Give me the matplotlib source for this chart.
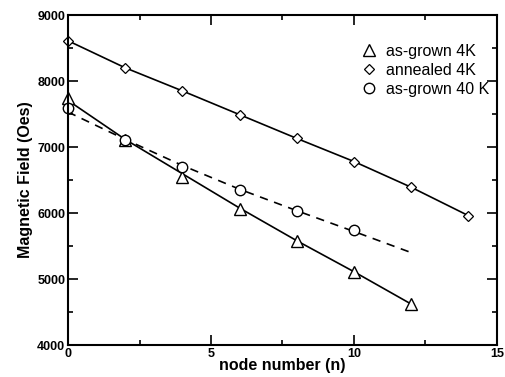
import matplotlib
matplotlib.use("Agg")
import matplotlib.pyplot as plt
from matplotlib.ticker import MultipleLocator

plt.rcParams['font.family'] = ['Liberation Sans', 'DejaVu Sans']

# as-grown 4K (triangles)
n_grown4 = [0, 2, 4, 6, 8, 10, 12]
h_grown4 = [7750, 7100, 6550, 6060, 5570, 5110, 4620]
# annealed 4K (diamonds)
n_ann4 = [0, 2, 4, 6, 8, 10, 12, 14]
h_ann4 = [8610, 8200, 7850, 7490, 7130, 6780, 6390, 5960]
# as-grown 40 K (circles)
n_grown40 = [0, 2, 4, 6, 8, 10]
h_grown40 = [7590, 7110, 6690, 6345, 6025, 5735]
# dashed fit through the 40 K data
fit40_n = [0, 2, 4, 6, 8, 10, 12]
fit40_h = [7530, 7115, 6720, 6360, 6035, 5720, 5400]
# solid fit through the as-grown 4K data
fit4_n = [0, 2, 4, 6, 8, 10, 12]
fit4_h = [7705, 7115, 6595, 6075, 5580, 5110, 4620]

fig = plt.figure(figsize=(5.06, 3.77), dpi=100)
ax = fig.add_axes([68/506, 1-345/377, (497-68)/506, (345-15)/377])

ax.plot(fit4_n, fit4_h, color='black', lw=1.2)
ax.plot(n_ann4, h_ann4, color='black', lw=1.2)
ax.plot(fit40_n, fit40_h, color='black', lw=1.2, ls=(0, (5, 4)))

ax.plot(n_grown4, h_grown4, ls='none', marker='^', ms=9, mfc='white', mec='black', mew=1.0,
        label='as-grown 4K', clip_on=False)
ax.plot(n_ann4, h_ann4, ls='none', marker='D', ms=5.5, mfc='white', mec='black', mew=0.9,
        label='annealed 4K', clip_on=False)
ax.plot(n_grown40, h_grown40, ls='none', marker='o', ms=7.5, mfc='white', mec='black', mew=1.0,
        label='as-grown 40 K', clip_on=False)

ax.set_xlim(0, 15)
ax.set_ylim(4000, 9000)
ax.xaxis.set_major_locator(MultipleLocator(5))
ax.xaxis.set_minor_locator(MultipleLocator(2.5))
ax.yaxis.set_major_locator(MultipleLocator(1000))
ax.yaxis.set_minor_locator(MultipleLocator(500))
ax.tick_params(which='both', direction='in', top=True, right=True, width=1.2)
ax.tick_params(which='major', length=7, labelsize=9, pad=2)
ax.tick_params(which='minor', length=3.5)
for lab in ax.get_xticklabels() + ax.get_yticklabels():
    lab.set_fontweight('bold')
for s in ax.spines.values():
    s.set_linewidth(1.5)

ax.set_xlabel('node number (n)', fontsize=11.5, fontweight='bold', labelpad=-1)
ax.set_ylabel('Magnetic Field (Oes)', fontsize=11.5, fontweight='bold', labelpad=3)

ax.legend(loc='upper right', frameon=False, fontsize=11.5, handletextpad=0.5,
          labelspacing=0.25, borderaxespad=0, handlelength=1.2,
          bbox_to_anchor=(0.997, 0.932))

fig.savefig('out.png', dpi=100)
